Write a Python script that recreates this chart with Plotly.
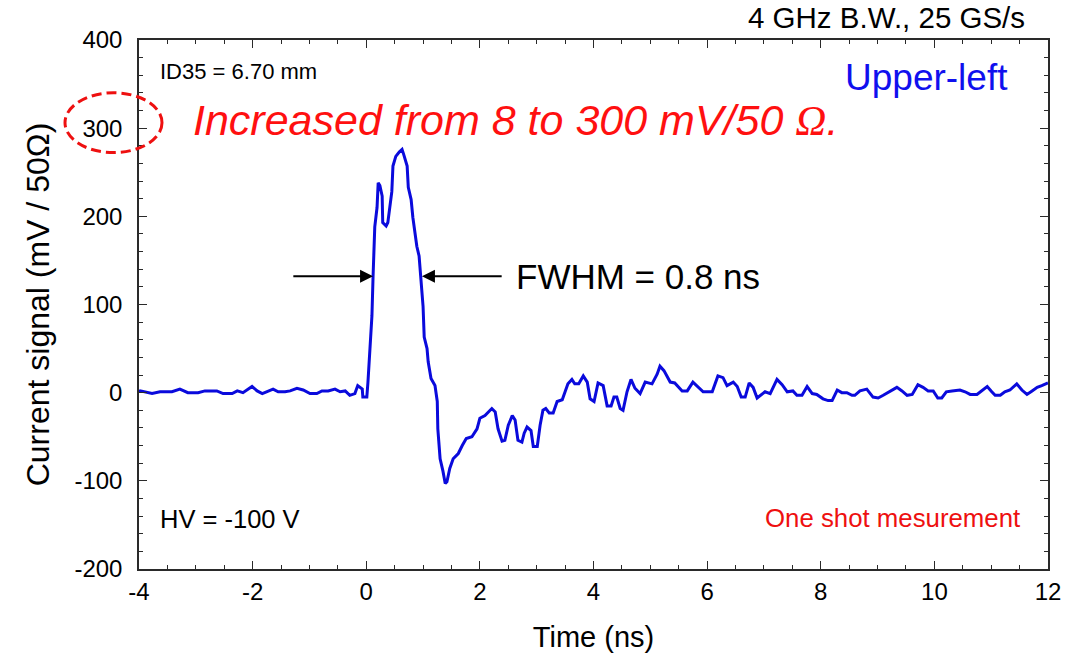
import plotly.graph_objects as go

# Time (ns) and current signal (mV / 50 Ohm)
time_ns = [
    -4.00, -3.98, -3.77, -3.63, -3.42, -3.28, -3.14, -2.96, -2.84, -2.63, -2.52, -2.36,
    -2.27, -2.17, -2.01, -1.92, -1.83, -1.73, -1.64, -1.55, -1.43, -1.34, -1.22, -1.11,
    -0.99, -0.87, -0.78, -0.67, -0.55, -0.46, -0.37, -0.29, -0.20, -0.15, -0.07, -0.06,
    0.01, 0.03, 0.07, 0.10, 0.12, 0.15, 0.19, 0.21, 0.24, 0.28, 0.29, 0.35, 0.38, 0.42,
    0.45, 0.47, 0.52, 0.58, 0.63, 0.66, 0.72, 0.74, 0.79, 0.82, 0.86, 0.89, 0.93, 0.96,
    1.00, 1.02, 1.07, 1.09, 1.14, 1.21, 1.25, 1.26, 1.30, 1.35, 1.39, 1.42, 1.47, 1.53,
    1.62, 1.69, 1.76, 1.86, 1.95, 2.00, 2.09, 2.21, 2.27, 2.32, 2.39, 2.44, 2.50, 2.57,
    2.62, 2.67, 2.74, 2.78, 2.83, 2.90, 2.94, 3.01, 3.06, 3.11, 3.16, 3.22, 3.29, 3.36,
    3.45, 3.50, 3.55, 3.62, 3.67, 3.74, 3.82, 3.89, 3.94, 4.01, 4.08, 4.17, 4.24, 4.31,
    4.36, 4.41, 4.47, 4.52, 4.59, 4.66, 4.73, 4.82, 4.91, 5.03, 5.12, 5.17, 5.24, 5.35,
    5.43, 5.56, 5.65, 5.75, 5.84, 5.93, 6.09, 6.19, 6.28, 6.35, 6.46, 6.53, 6.60, 6.67,
    6.74, 6.81, 6.88, 6.95, 7.02, 7.11, 7.23, 7.32, 7.41, 7.51, 7.58, 7.67, 7.76, 7.85,
    7.93, 8.04, 8.13, 8.20, 8.29, 8.37, 8.46, 8.55, 8.60, 8.69, 8.81, 8.92, 9.01, 9.10,
    9.22, 9.34, 9.43, 9.52, 9.61, 9.71, 9.80, 9.89, 9.98, 10.06, 10.13, 10.21, 10.31,
    10.45, 10.54, 10.63, 10.75, 10.84, 10.93, 11.01, 11.07, 11.16, 11.24, 11.33, 11.45,
    11.54, 11.63, 11.72, 11.81, 11.89, 11.98, 12.00,
]
signal_mv = [
    1, 2, -1, 1, 1, 4, 0, 0, 2, 2, -1, -1,
    2, 0, 7, 2, -1, 2, 4, 1, 1, 2, 5, 3,
    -1, -1, 2, 2, 4, 1, 2, -3, -1, 8, 4, -5,
    -5, 12, 53, 87, 132, 188, 210, 238, 235, 223, 193, 189, 193, 211,
    228, 257, 268, 273, 276, 270, 257, 233, 219, 199, 182, 166, 155, 129,
    98, 63, 50, 35, 16, 8, -10, -41, -75, -89, -103, -101, -86, -75,
    -69, -60, -52, -50, -41, -29, -26, -18, -22, -41, -55, -54, -37, -26,
    -31, -54, -56, -46, -39, -43, -61, -61, -37, -20, -18, -23, -23, -10,
    -8, 1, 10, 15, 10, 10, 19, 12, -7, -10, 11, 8, -15, -15,
    -5, -5, -18, -20, 1, 15, 5, -1, 12, 10, 21, 30, 25, 12,
    11, 2, 2, 12, 7, 1, 1, 19, 17, 8, 12, 7, -5, -5,
    11, 6, -6, -3, 1, -1, 15, 9, 1, 2, -3, -3, 7, -1,
    -2, -7, -9, -9, 3, 0, 0, -3, -3, 2, 4, -5, -6, -3,
    2, 6, 2, -3, -2, 9, 6, 2, 2, -6, -6, 1, 2,
    3, 1, -2, -2, 2, 7, 1, -3, -3, 1, 3, 10,
    3, -2, 2, 6, 8, 11, 11,
]

x_ticks = [-4, -2, 0, 2, 4, 6, 8, 10, 12]
x_tick_labels = ["-4", "-2", "0", "2", "4", "6", "8", "10", "12"]
y_ticks = [-200, -100, 0, 100, 200, 300, 400]
y_tick_labels = ["-200", "-100", "0", "100", "200", "300", "400"]

FONT = "Liberation Sans, Arial, sans-serif"
AXIS_COLOR = "#2a2a2a"

fig = go.Figure()
fig.add_trace(go.Scatter(
    x=time_ns, y=signal_mv, mode="lines",
    line=dict(color="rgb(10,10,220)", width=3),
    showlegend=False, hoverinfo="skip",
))

axis_common = dict(
    showline=True, linecolor=AXIS_COLOR, linewidth=1.5, mirror="ticks",
    ticks="inside", ticklen=8, tickwidth=1.2, tickcolor=AXIS_COLOR,
    showgrid=False, zeroline=False,
    tickfont=dict(family=FONT, size=24, color="black"),
)

fig.update_xaxes(
    range=[-4, 12], tickvals=x_ticks, ticktext=x_tick_labels,
    minor=dict(dtick=0.5, ticks="inside", ticklen=4, tickcolor=AXIS_COLOR, showgrid=False),
    title=dict(text="Time (ns)", font=dict(family=FONT, size=29, color="black"), standoff=23),
    ticklabelstandoff=0,
    **axis_common,
)
fig.update_yaxes(
    range=[-200, 400], tickvals=y_ticks, ticktext=y_tick_labels,
    minor=dict(dtick=20, ticks="inside", ticklen=4, tickcolor=AXIS_COLOR, showgrid=False),
    title=dict(text="Current signal (mV / 50Ω)", font=dict(family=FONT, size=32, color="black"), standoff=15),
    ticklabelstandoff=10,
    **axis_common,
)

W, H = 1083, 660
L, R, T, B = 139, 35, 40, 89
pw, ph = W - L - R, H - T - B


def px(xp):
    return (xp - L) / pw


def py(yp):
    return (H - B - yp) / ph


def text(t, xp, yp, size, color="black", xanchor="left", **kw):
    fig.add_annotation(
        text=t, x=px(xp), y=py(yp), xref="paper", yref="paper",
        xanchor=xanchor, yanchor="middle", showarrow=False,
        font=dict(family=FONT, size=size, color=color), **kw,
    )


text("4 GHz B.W., 25 GS/s", 1027, 17, 29.5, xanchor="right")
text("ID35 = 6.70 mm", 158, 72, 22)
text("Upper-left", 843, 78, 37, color="#1010ee")
text("<i>Increased from 8 to 300 mV/50 <span style='font-family:Liberation Serif, Times New Roman, serif'>Ω</span>.</i>",
     191, 120, 43, color="#ff1010")
text("FWHM = 0.8 ns", 514, 277, 35)
text("HV = -100 V", 158, 521, 25.5)
text("One shot mesurement", 763, 520, 25.8, color="#ee1010")

# FWHM arrows (data coordinates)
fwhm_y = 132
for tip, tail in [(0.12, -1.31), (0.98, 2.41)]:
    fig.add_annotation(
        x=tip, y=fwhm_y, ax=tail, ay=fwhm_y, xref="x", yref="y", axref="x", ayref="y",
        showarrow=True, arrowhead=2, arrowsize=1.3, arrowwidth=2, arrowcolor="black", text="",
    )

# dashed ellipse around the 300 tick label
fig.add_shape(
    type="circle", xref="paper", yref="paper",
    x0=px(65), x1=px(162), y0=py(153), y1=py(93),
    line=dict(color="#ee1010", width=3, dash="10px,5px"),
)

fig.update_layout(
    width=W, height=H,
    margin=dict(l=L, r=R, t=T, b=B),
    paper_bgcolor="white", plot_bgcolor="white",
    font=dict(family=FONT, color="black"),
)

fig.write_html("out.html", config={"displayModeBar": False},
               post_script="document.body.style.margin='0';")
